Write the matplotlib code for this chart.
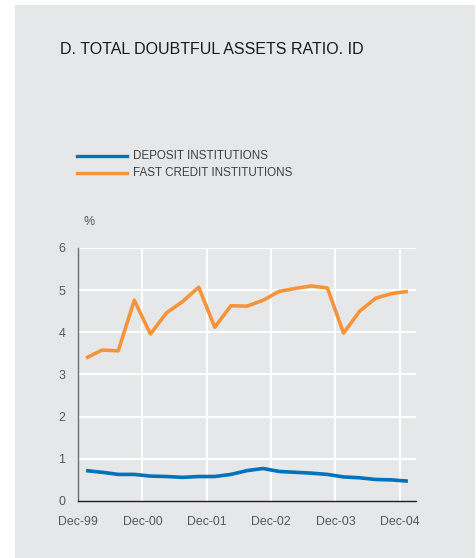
import matplotlib.pyplot as plt
from matplotlib.patches import Rectangle

# quarterly observations, Mar-00 .. Mar-05
deposit = [0.72, 0.68, 0.63, 0.63, 0.59, 0.58, 0.56, 0.58, 0.58, 0.63, 0.72,
           0.77, 0.70, 0.68, 0.66, 0.63, 0.57, 0.55, 0.51, 0.50, 0.47]
fast_credit = [3.39, 3.58, 3.56, 4.76, 3.96, 4.46, 4.73, 5.07, 4.12, 4.63, 4.62,
               4.76, 4.97, 5.04, 5.10, 5.05, 3.98, 4.50, 4.81, 4.92, 4.97]
tick_labels = ['Dec-99', 'Dec-00', 'Dec-01', 'Dec-02', 'Dec-03', 'Dec-04']

BG = '#e6e7e8'
BLUE = '#0071bc'
ORANGE = '#f7943a'
TXT = '#58595b'

plt.rcParams['font.family'] = ['Liberation Sans', 'DejaVu Sans']

fig = plt.figure(figsize=(4.77, 5.58), dpi=100)
fig.patch.set_facecolor('white')
fig.patches.append(Rectangle((15 / 477, 0), 460 / 477, 553 / 558,
                             transform=fig.transFigure, facecolor=BG,
                             edgecolor='none', zorder=-5))

ax = fig.add_axes([0.1635, 0.1022, 0.7085, 0.4534])
ax.set_facecolor(BG)

x = [i + 0.5 for i in range(len(deposit))]
ax.plot(x, deposit, color=BLUE, lw=2.6, solid_capstyle='butt', zorder=3)
ax.plot(x, fast_credit, color=ORANGE, lw=2.6, solid_capstyle='butt', zorder=3)

ax.set_xlim(0, len(deposit))
ax.set_ylim(0, 6)
ax.set_xticks(range(0, 21, 4))
ax.set_xticklabels(tick_labels)
ax.set_yticks(range(0, 7))

for k in range(1, 7):
    ax.axhline(k, color='white', lw=1.5, zorder=1)
for k in range(4, 21, 4):
    ax.axvline(k, color='white', lw=1.5, zorder=1)

for s in ['top', 'right']:
    ax.spines[s].set_visible(False)
ax.spines['left'].set_color('#6d6e71')
ax.spines['bottom'].set_color('#231f20')
ax.spines['left'].set_linewidth(1.0)
ax.spines['bottom'].set_linewidth(1.0)
ax.tick_params(length=0, labelsize=8.9, colors=TXT)
ax.tick_params(axis='x', pad=10.5)
ax.tick_params(axis='y', pad=9)

fig.text(84 / 477, 1 - 222 / 558, '%', fontsize=8.9, color=TXT,
         ha='left', va='center')

fig.text(60 / 477, 1 - 50 / 558, 'D. TOTAL DOUBTFUL ASSETS RATIO. ID',
         fontsize=11.5, color='#1a1a1a', ha='left', va='center')

# legend drawn by hand
for yy, col, lab in [(156, BLUE, 'DEPOSIT INSTITUTIONS'),
                     (173, ORANGE, 'FAST CREDIT INSTITUTIONS')]:
    fy = 1 - yy / 558
    fig.lines.append(plt.Line2D([77 / 477, 127 / 477], [fy, fy],
                                transform=fig.transFigure, color=col, lw=2.4))
    fig.text(133 / 477, fy, lab, fontsize=8.4, color='#414042',
             ha='left', va='center')

plt.savefig('out.png', dpi=100)
